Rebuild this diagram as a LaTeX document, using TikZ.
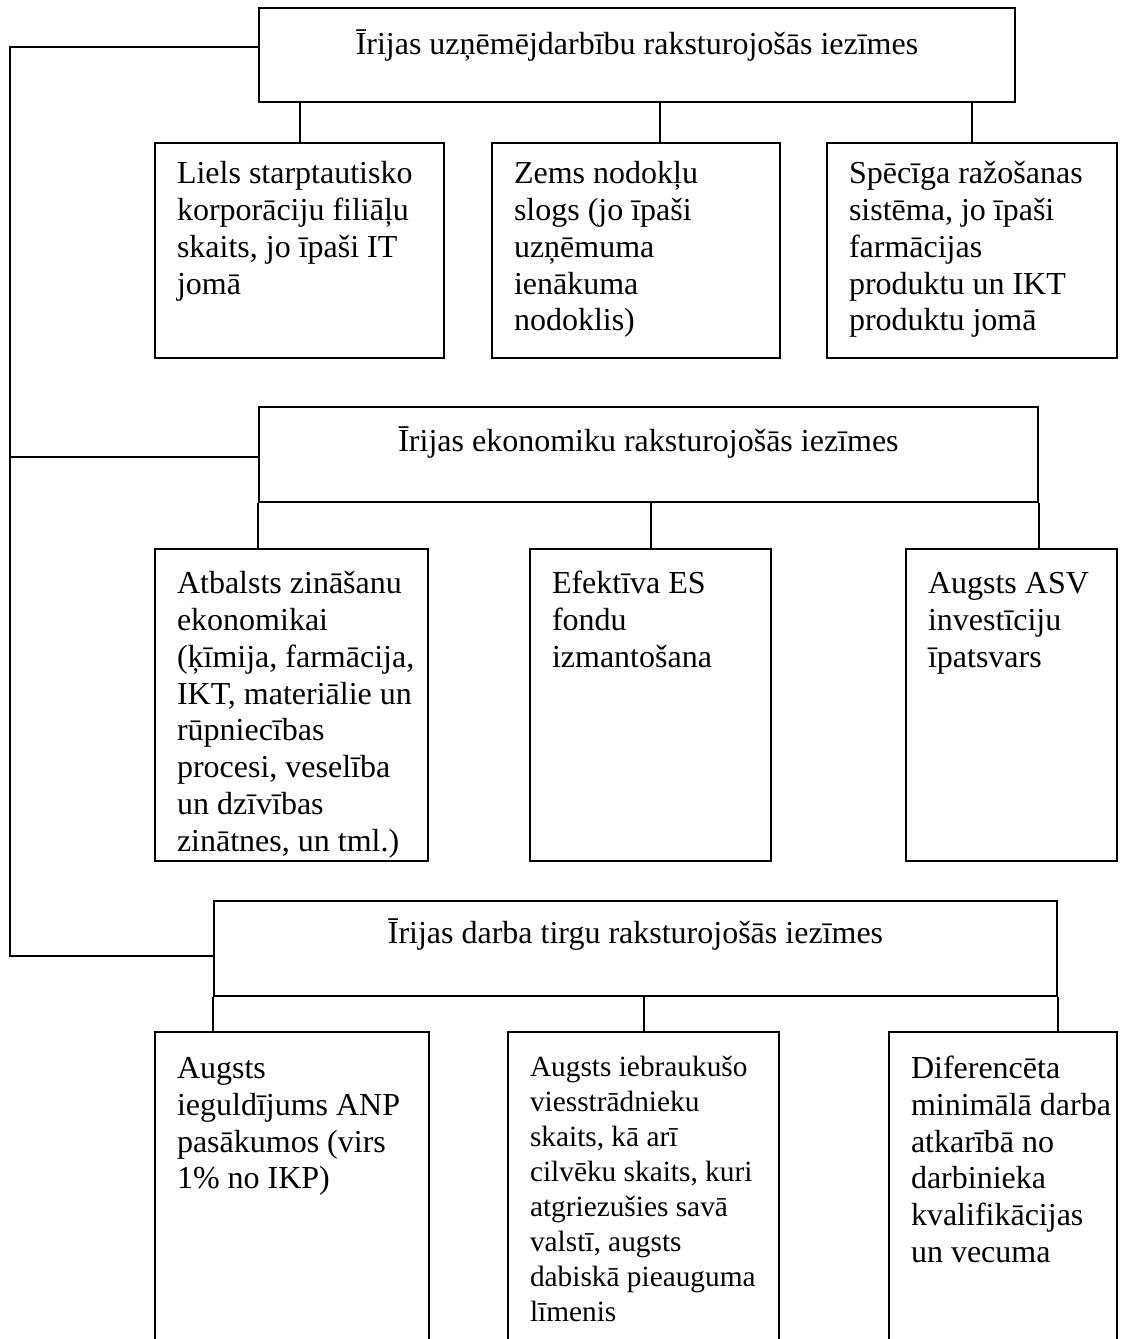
\documentclass[tikz,border=0pt]{standalone}
\usepackage{fontspec}
\setmainfont{Liberation Serif}

% one unit of the drawing
\newlength\pxu \setlength\pxu{0.375pt}
% inner padding of the boxes
\newlength\padL \setlength\padL{22\pxu}
\newlength\padT \setlength\padT{5.6pt}

% text set flush left, with an optional extra drop from the top edge
\newcommand\leafpar[1][0pt]{\vspace*{#1}\leftskip=\padL\relax\rightskip=-30pt\relax\parindent=0pt\strut\ignorespaces}
% text centred on one line, with an optional extra drop from the top edge
\newcommand\headpar[1][0pt]{\vspace*{#1}\centering\strut\ignorespaces}
% #1 name, #2 style, #3 x, #4 y, #5 width, #6 height, #7 text
\newcommand\cellbox[7]{%
  \node[#2] (#1) at (#3,#4)
    {\parbox[t][\dimexpr #6\pxu-2\padT\relax][t]{#5\pxu}{#7}};}

\tikzset{
  frame/.style={draw, line width=0.75pt, anchor=north west,
                inner xsep=0pt, inner ysep=\padT},
  head/.style={frame, font=\fontsize{12}{13.8}\selectfont},
  leaf/.style={frame, font=\fontsize{12}{13.8}\selectfont},
  leafsmall/.style={frame, font=\fontsize{11}{13.1}\selectfont},
  link/.style={line width=0.75pt},
}

\begin{document}
\begin{tikzpicture}[x=0.375pt, y=-0.375pt]
\useasboundingbox (0,0) rectangle (1124,1339);
\clip (0,0) rectangle (1124,1339);

% headings
\cellbox{h1}{head}{258}{7}{756}{94}{\headpar[2pt] Īrijas uzņēmējdarbību raksturojošās iezīmes}
\cellbox{h2}{head}{258}{406}{779}{95}{\headpar[1.5pt] Īrijas ekonomiku raksturojošās iezīmes}
\cellbox{h3}{head}{213}{900}{843}{95}{\headpar[0.5pt] Īrijas darba tirgu raksturojošās iezīmes}

% business
\cellbox{r1a}{leaf}{154}{142}{289}{215}{\leafpar Liels starptautisko\\korporāciju filiāļu\\skaits, jo īpaši IT\\jomā}
\cellbox{r1b}{leaf}{491}{142}{288}{215}{\leafpar Zems nodokļu\\slogs (jo īpaši\\uzņēmuma\\ienākuma\\nodoklis)}
\cellbox{r1c}{leaf}{826}{142}{290}{215}{\leafpar Spēcīga ražošanas\\sistēma, jo īpaši\\farmācijas\\produktu un IKT\\produktu jomā}

% economy
\cellbox{r2a}{leaf}{154}{548}{273}{312}{\leafpar[1.5pt] Atbalsts zināšanu\\ekonomikai\\(ķīmija, farmācija,\\IKT, materiālie un\\rūpniecības\\procesi, veselība\\un dzīvības\\zinātnes, un tml.)}
\cellbox{r2b}{leaf}{529}{548}{241}{312}{\leafpar[1.5pt] Efektīva ES\\fondu\\izmantošana}
\cellbox{r2c}{leaf}{905}{548}{211}{312}{\leafpar[1.5pt] Augsts ASV\\investīciju\\īpatsvars}

% labour market
\cellbox{r3a}{leaf}{154}{1031}{274}{400}{\leafpar[2.2pt] Augsts\\ieguldījums ANP\\pasākumos (virs\\1\% no IKP)}
\cellbox{r3b}{leafsmall}{507}{1031}{271}{400}{\leafpar[2pt] Augsts iebraukušo\\viesstrādnieku\\skaits, kā arī\\cilvēku skaits, kuri\\atgriezušies savā\\valstī, augsts\\dabiskā pieauguma\\līmenis}
\cellbox{r3c}{leaf}{888}{1031}{228}{400}{\leafpar[2.2pt] Diferencēta\\minimālā darba\\atkarībā no\\darbinieka\\kvalifikācijas\\un vecuma}

% connectors from headings to their boxes
\draw[link] (r1a.north) -- (r1a.north |- h1.south);
\draw[link] ([xshift=24\pxu]r1b.north) -- ([xshift=24\pxu]r1b.north |- h1.south);
\draw[link] (r1c.north) -- (r1c.north |- h1.south);
\draw[link] (h2.south west) -- (h2.south west |- r2a.north);
\draw[link] (r2b.north) -- (r2b.north |- h2.south);
\draw[link] (h2.south east) -- (h2.south east |- r2c.north);
\draw[link] (h3.south west) -- (h3.south west |- r3a.north);
\draw[link] (r3b.north) -- (r3b.north |- h3.south);
\draw[link] (h3.south east) -- (h3.south east |- r3c.north);

% left bus joining the three headings
\coordinate (b1) at (10,47);
\coordinate (b2) at (10,457);
\coordinate (b3) at (10,956);
\draw[link] (h1.west |- b1) -- (b1) -- (b3) -- (h3.west |- b3);
\draw[link] (b2) -- (h2.west |- b2);
\end{tikzpicture}
\end{document}
